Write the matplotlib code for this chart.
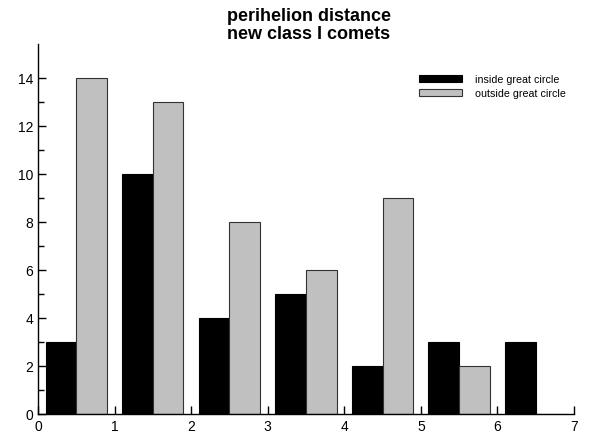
import matplotlib
matplotlib.use("Agg")
import matplotlib.pyplot as plt
import numpy as np
from matplotlib.patches import Patch

plt.rcParams['font.family'] = ['Liberation Sans', 'DejaVu Sans']

groups = [0, 1, 2, 3, 4, 5, 6]
inside = [3, 10, 4, 5, 2, 3, 3]
outside = [14, 13, 8, 6, 9, 2, 0]
xticks = [0, 1, 2, 3, 4, 5, 6, 7]
yticks = [0, 2, 4, 6, 8, 10, 12, 14]

fig = plt.figure(figsize=(5.89, 4.39), dpi=100)
ax = fig.add_axes([0.0645, 0.0547, 0.91, 0.843])

g = np.array(groups)
ax.bar(g + 0.1, inside, width=0.4, align='edge', color='black', edgecolor='black', linewidth=0.8)
ax.bar(g + 0.5, outside, width=0.4, align='edge', color='#c0c0c0', edgecolor='#333333', linewidth=0.8)

ax.set_xlim(0, 7)
ax.set_ylim(0, 15.4)
ax.set_xticks(xticks)
ax.set_yticks(yticks)
ax.set_yticks(np.arange(1, 15, 2), minor=True)
ax.tick_params(axis='both', which='major', direction='in', length=6, width=1, labelsize=10)
ax.tick_params(axis='y', which='minor', direction='in', length=4, width=1)
ax.spines['top'].set_visible(False)
ax.spines['right'].set_visible(False)
ax.spines['left'].set_linewidth(1)
ax.spines['bottom'].set_linewidth(1)

fig.text(0.524, 1 - 8 / 439, 'perihelion distance\nnew class I comets', fontsize=13,
         fontweight='bold', ha='center', va='top', linespacing=1.08)

handles = [Patch(facecolor='black', edgecolor='black', linewidth=0.8),
           Patch(facecolor='#c0c0c0', edgecolor='#333333', linewidth=0.8)]
leg = ax.legend(handles, ['inside great circle', 'outside great circle'],
                loc='upper left', bbox_to_anchor=(0.711, 0.919), frameon=False,
                fontsize=7.7, handlelength=4.0, handleheight=0.65, handletextpad=1.2,
                labelspacing=0.4, borderaxespad=0, borderpad=0)

fig.savefig('out.png', dpi=100)
